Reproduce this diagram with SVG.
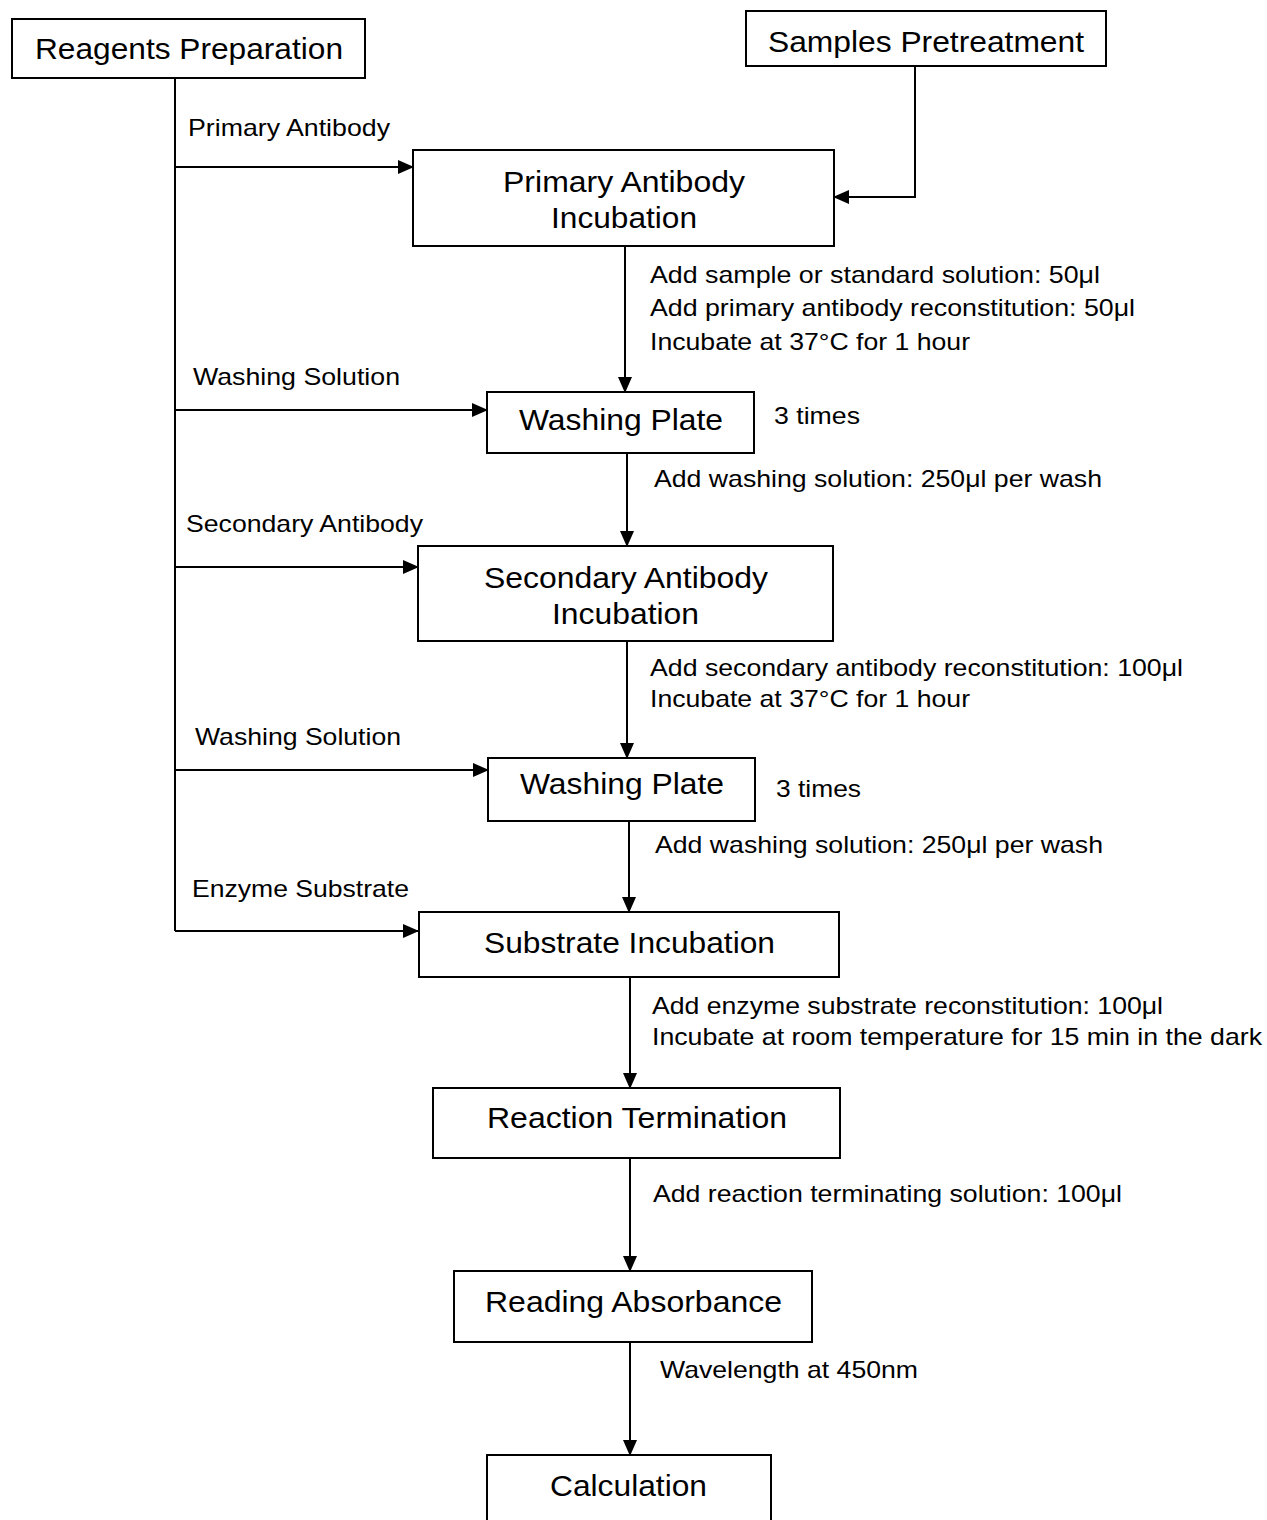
<svg xmlns="http://www.w3.org/2000/svg" width="1267" height="1520" viewBox="0 0 1267 1520">
<style>
.box{fill:#fff;stroke:#000;stroke-width:2}
.t{font-family:"Liberation Sans",Arial,sans-serif;font-size:29px;fill:#000}
.s{font-family:"Liberation Sans",Arial,sans-serif;font-size:24px;fill:#000}
.c{fill:none;stroke:#000;stroke-width:2}
</style>
<defs>
<marker id="ah" markerUnits="userSpaceOnUse" markerWidth="16" markerHeight="14" refX="15" refY="7" orient="auto">
<path d="M0,0 L16,7 L0,14 Z" fill="#000"/>
</marker>
</defs>
<rect width="1267" height="1520" fill="#fff"/>
<g id="connectors">
<path class="c" d="M175,78 V931"/>
<path class="c" d="M175,167 H413" marker-end="url(#ah)"/>
<path class="c" d="M175,410 H487" marker-end="url(#ah)"/>
<path class="c" d="M175,567 H418" marker-end="url(#ah)"/>
<path class="c" d="M175,770 H488" marker-end="url(#ah)"/>
<path class="c" d="M175,931 H418" marker-end="url(#ah)"/>
<path class="c" d="M915,66 V197 H834" marker-end="url(#ah)"/>
<path class="c" d="M625,246 V392" marker-end="url(#ah)"/>
<path class="c" d="M627,453 V546" marker-end="url(#ah)"/>
<path class="c" d="M627,641 V758" marker-end="url(#ah)"/>
<path class="c" d="M629,821 V912" marker-end="url(#ah)"/>
<path class="c" d="M630,977 V1088" marker-end="url(#ah)"/>
<path class="c" d="M630,1158 V1271" marker-end="url(#ah)"/>
<path class="c" d="M630,1342 V1455" marker-end="url(#ah)"/>
<text class="s" x="188" y="136" textLength="202" lengthAdjust="spacingAndGlyphs">Primary Antibody</text>
<text class="s" x="650" y="283" textLength="450" lengthAdjust="spacingAndGlyphs">Add sample or standard solution: 50μl</text>
<text class="s" x="650" y="316" textLength="485" lengthAdjust="spacingAndGlyphs">Add primary antibody reconstitution: 50μl</text>
<text class="s" x="650" y="350" textLength="320" lengthAdjust="spacingAndGlyphs">Incubate at 37°C for 1 hour</text>
<text class="s" x="193" y="385" textLength="207" lengthAdjust="spacingAndGlyphs">Washing Solution</text>
<text class="s" x="774" y="424" textLength="86" lengthAdjust="spacingAndGlyphs">3 times</text>
<text class="s" x="654" y="487" textLength="448" lengthAdjust="spacingAndGlyphs">Add washing solution: 250μl per wash</text>
<text class="s" x="186" y="532" textLength="237" lengthAdjust="spacingAndGlyphs">Secondary Antibody</text>
<text class="s" x="650" y="676" textLength="533" lengthAdjust="spacingAndGlyphs">Add secondary antibody reconstitution: 100μl</text>
<text class="s" x="650" y="707" textLength="320" lengthAdjust="spacingAndGlyphs">Incubate at 37°C for 1 hour</text>
<text class="s" x="195" y="745" textLength="206" lengthAdjust="spacingAndGlyphs">Washing Solution</text>
<text class="s" x="776" y="797" textLength="85" lengthAdjust="spacingAndGlyphs">3 times</text>
<text class="s" x="655" y="853" textLength="448" lengthAdjust="spacingAndGlyphs">Add washing solution: 250μl per wash</text>
<text class="s" x="192" y="897" textLength="217" lengthAdjust="spacingAndGlyphs">Enzyme Substrate</text>
<text class="s" x="652" y="1014" textLength="511" lengthAdjust="spacingAndGlyphs">Add enzyme substrate reconstitution: 100μl</text>
<text class="s" x="652" y="1045" textLength="610" lengthAdjust="spacingAndGlyphs">Incubate at room temperature for 15 min in the dark</text>
<text class="s" x="653" y="1202" textLength="469" lengthAdjust="spacingAndGlyphs">Add reaction terminating solution: 100μl</text>
<text class="s" x="660" y="1378" textLength="258" lengthAdjust="spacingAndGlyphs">Wavelength at 450nm</text>
</g>
<g id="reagents">
<rect class="box" x="12" y="19" width="353" height="59"/>
<text class="t" x="35" y="59" textLength="308" lengthAdjust="spacingAndGlyphs">Reagents Preparation</text>
</g>
<g id="samples">
<rect class="box" x="746" y="11" width="360" height="55"/>
<text class="t" x="768" y="52" textLength="316" lengthAdjust="spacingAndGlyphs">Samples Pretreatment</text>
</g>
<g id="primary">
<rect class="box" x="413" y="150" width="421" height="96"/>
<text class="t" x="503" y="192" textLength="242" lengthAdjust="spacingAndGlyphs">Primary Antibody</text>
<text class="t" x="551" y="228" textLength="146" lengthAdjust="spacingAndGlyphs">Incubation</text>
</g>
<g id="wash1">
<rect class="box" x="487" y="392" width="267" height="61"/>
<text class="t" x="519" y="430" textLength="204" lengthAdjust="spacingAndGlyphs">Washing Plate</text>
</g>
<g id="secondary">
<rect class="box" x="418" y="546" width="415" height="95"/>
<text class="t" x="484" y="588" textLength="284" lengthAdjust="spacingAndGlyphs">Secondary Antibody</text>
<text class="t" x="552" y="624" textLength="147" lengthAdjust="spacingAndGlyphs">Incubation</text>
</g>
<g id="wash2">
<rect class="box" x="488" y="758" width="267" height="63"/>
<text class="t" x="520" y="794" textLength="204" lengthAdjust="spacingAndGlyphs">Washing Plate</text>
</g>
<g id="substrate">
<rect class="box" x="419" y="912" width="420" height="65"/>
<text class="t" x="484" y="953" textLength="291" lengthAdjust="spacingAndGlyphs">Substrate Incubation</text>
</g>
<g id="termination">
<rect class="box" x="433" y="1088" width="407" height="70"/>
<text class="t" x="487" y="1128" textLength="300" lengthAdjust="spacingAndGlyphs">Reaction Termination</text>
</g>
<g id="reading">
<rect class="box" x="454" y="1271" width="358" height="71"/>
<text class="t" x="485" y="1312" textLength="297" lengthAdjust="spacingAndGlyphs">Reading Absorbance</text>
</g>
<g id="calculation">
<rect class="box" x="487" y="1455" width="284" height="80"/>
<text class="t" x="550" y="1496" textLength="157" lengthAdjust="spacingAndGlyphs">Calculation</text>
</g>
</svg>
